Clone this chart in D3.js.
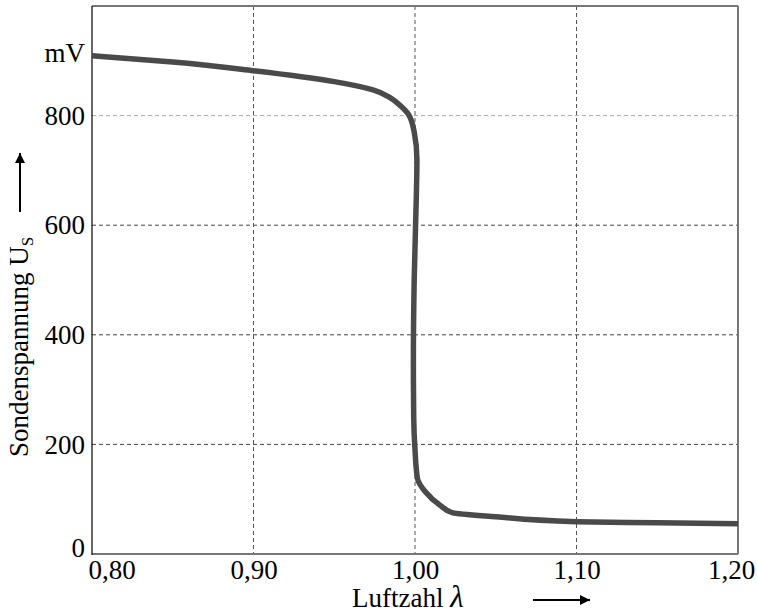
<!DOCTYPE html>
<html>
<head>
<meta charset="utf-8">
<script src="https://cdn.jsdelivr.net/npm/d3@7"></script>
<style>
    body { margin: 0; background: #fff; }
    svg text { font-family: "Liberation Serif", "Times New Roman", "DejaVu Serif", serif !important; fill: #000; }
</style>
</head>
<body>
<svg id="chart" width="757" height="616"></svg>
<script>
// Lambda-Sonde: Sondenspannung über Luftzahl
var lambdaVals = [0.80, 0.85, 0.90, 0.95, 0.974, 0.985, 0.991, 0.996, 0.9995, 1.0012, 1.0008, 0.9995, 0.999, 0.9992, 1.000, 1.0015, 1.006, 1.0155, 1.0235, 1.05, 1.10, 1.15, 1.20];
var voltVals = [909, 898, 882, 862, 847, 832, 818, 802, 770, 720, 650, 500, 350, 250, 190, 138, 115, 89, 75, 68, 59, 57, 55];

var xTicks = [0.80, 0.90, 1.00, 1.10, 1.20];
var xTickLabels = ["0,80", "0,90", "1,00", "1,10", "1,20"];
var yTicks = [0, 200, 400, 600, 800];
var yUnit = "mV";

var serif = "'Liberation Serif', 'Times New Roman', serif";

var svg = d3.select("#chart"),
    margin = {top: 6, right: 19, bottom: 62, left: 92},
    width = 757 - margin.left - margin.right,
    height = 616 - margin.top - margin.bottom,
    g = svg.append("g").attr("transform", "translate(" + margin.left + "," + margin.top + ")");

var x = d3.scaleLinear().domain([0.80, 1.20]).range([0, width]);
var y = d3.scaleLinear().domain([0, 1000]).range([height, 0]);

// grid
g.append("g")
    .selectAll("line")
    .data(yTicks.filter(function (d) { return d > 0; }))
    .enter().append("line")
    .attr("x1", 0).attr("x2", width)
    .attr("y1", function (d) { return y(d); })
    .attr("y2", function (d) { return y(d); })
    .attr("stroke", function (d) { return d == 800 ? "#aaa" : "#444"; })
    .attr("stroke-width", 1)
    .attr("stroke-dasharray", "4,3");

g.append("g")
    .selectAll("line")
    .data(xTicks.slice(1, -1))
    .enter().append("line")
    .attr("y1", 0).attr("y2", height)
    .attr("x1", function (d) { return x(d); })
    .attr("x2", function (d) { return x(d); })
    .attr("stroke", "#555")
    .attr("stroke-width", 1)
    .attr("stroke-dasharray", "4,3");

// frame
g.append("line").attr("x1", 0).attr("x2", width).attr("y1", 0).attr("y2", 0)
    .attr("stroke", "#777").attr("stroke-width", 2);
g.append("line").attr("x1", width).attr("x2", width).attr("y1", 0).attr("y2", height)
    .attr("stroke", "#777").attr("stroke-width", 2);
g.append("line").attr("x1", 0).attr("x2", width).attr("y1", height).attr("y2", height)
    .attr("stroke", "#777").attr("stroke-width", 2);
g.append("line").attr("x1", 0).attr("x2", 0).attr("y1", 0).attr("y2", height + 1)
    .attr("stroke", "#000").attr("stroke-width", 1.2);

// axes (labels only)
var yAxis = g.append("g")
    .call(d3.axisLeft(y).tickValues(yTicks).tickSize(0).tickPadding(7).tickFormat(d3.format("d")));
yAxis.attr("font-family", null);
yAxis.select(".domain").remove();
yAxis.selectAll("text").style("font-size", "27px").style("font-family", serif).attr("fill", "#000")
    .attr("dy", function (d) { return d == 0 ? "0.1em" : "0.32em"; });

g.append("text")
    .attr("x", -7)
    .attr("y", y(900))
    .attr("dy", "0.05em")
    .attr("text-anchor", "end")
    .style("font-size", "27px")
    .style("font-family", serif)
    .text(yUnit);

var xAxis = g.append("g")
    .attr("transform", "translate(0," + height + ")")
    .call(d3.axisBottom(x).tickValues(xTicks).tickSize(0).tickPadding(5)
        .tickFormat(function (d, i) { return xTickLabels[i]; }));
xAxis.attr("font-family", null);
xAxis.select(".domain").remove();
xAxis.selectAll("text").style("font-size", "27px").style("font-family", serif).attr("fill", "#000")
    .attr("dy", "0.75em")
    .attr("text-anchor", function (d, i) { return i == 0 ? "start" : "middle"; })
    .attr("dx", function (d, i) { return i == 0 ? -4 : (i == xTicks.length - 1 ? -7 : 0); });

// curve
var line = d3.line()
    .x(function (d) { return x(d[0]); })
    .y(function (d) { return y(d[1]); })
    .curve(d3.curveMonotoneY);

g.append("path")
    .datum(lambdaVals.map(function (d, i) { return [d, voltVals[i]]; }))
    .attr("fill", "none")
    .attr("stroke", "#4a4a4a")
    .attr("stroke-width", 5.5)
    .attr("stroke-linejoin", "round")
    .attr("d", line);

// arrow marker
svg.append("defs").append("marker")
    .attr("id", "arr")
    .attr("viewBox", "0 0 10 10")
    .attr("refX", 10).attr("refY", 5)
    .attr("markerWidth", 10).attr("markerHeight", 10)
    .attr("markerUnits", "userSpaceOnUse")
    .attr("orient", "auto")
    .append("path").attr("d", "M0,0 L10,5 L0,10 Z").attr("fill", "#000");

// x title
var xt = svg.append("text")
    .attr("x", 352)
    .attr("y", 607)
    .style("font-size", "27px")
    .style("font-family", serif);
xt.append("tspan").text("Luftzahl ");
xt.append("tspan").style("font-style", "italic").style("font-size", "31px").text("λ");

svg.append("line")
    .attr("x1", 533).attr("x2", 590)
    .attr("y1", 600).attr("y2", 600)
    .attr("stroke", "#000").attr("stroke-width", 2)
    .attr("marker-end", "url(#arr)");

// y title
var yt = svg.append("text")
    .attr("transform", "translate(28,457) rotate(-90)")
    .style("font-size", "27px")
    .style("font-family", serif);
yt.append("tspan").text("Sondenspannung U");
yt.append("tspan").attr("dy", 5).style("font-size", "17px").text("S");

svg.append("line")
    .attr("x1", 20).attr("x2", 20)
    .attr("y1", 212).attr("y2", 153)
    .attr("stroke", "#000").attr("stroke-width", 2)
    .attr("marker-end", "url(#arr)");
</script>
</body>
</html>
